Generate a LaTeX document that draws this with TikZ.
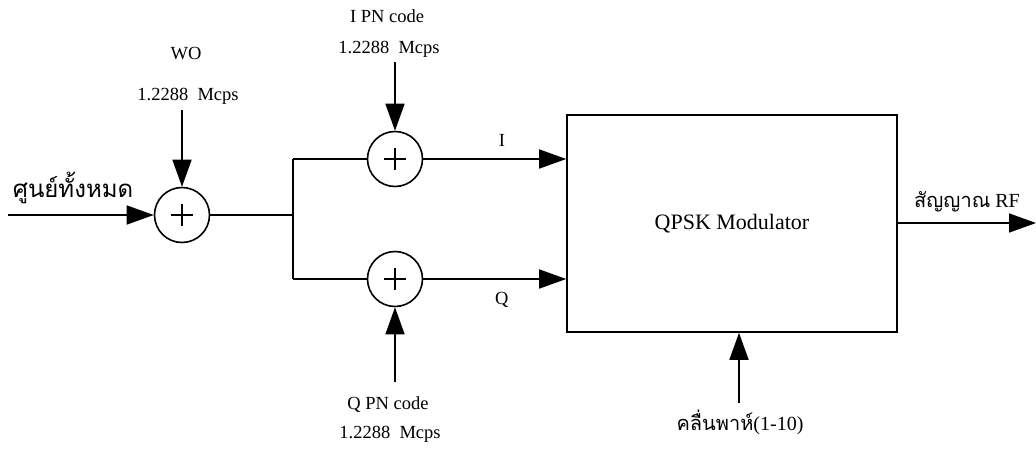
\documentclass[tikz,border=0pt]{standalone}
\usepackage{fontspec}
\setmainfont{Liberation Serif}
\newfontfamily\thaifont[Script=Thai]{Loma}
\usepackage{tikz}
\usetikzlibrary{calc, arrows.meta}

\tikzset{
    sumnode/.style={circle, draw, line width=1.6pt, minimum size=55pt, inner sep=0pt,
        path picture={\draw[line width=1.3pt] ($(path picture bounding box.center)+(-11,0)$) -- ++(22,0)
                                                ($(path picture bounding box.center)+(0,-11)$) -- ++(0,22);}},
    lbl/.style={font=\fontsize{18.5}{20}\selectfont, inner sep=0pt},
    thlbl/.style={font=\fontsize{20}{22}\selectfont, inner sep=0pt},
    sig/.style={line width=1.6pt, -{Triangle[length=27pt, width=19pt]}},
    wire/.style={line width=1.6pt}
}

\begin{document}
\begin{tikzpicture}[x=1pt, y=-1pt]
    \useasboundingbox (0,0) rectangle (1036,453);
    % summing points
    \node[sumnode] (sum0) at (182,215) {};
    \node[sumnode] (sumI) at (395,159) {};
    \node[sumnode] (sumQ) at (395,279) {};
    % modulator
    \node[draw, line width=1.6pt, minimum width=330pt, minimum height=217pt, inner sep=0pt,
          font=\fontsize{22}{24}\selectfont] (mod) at (732,223.5) {QPSK Modulator};
    % input side
    \coordinate (in) at (8,215);
    \coordinate (jn) at (293,215);
    \coordinate (jI) at (293,159);
    \coordinate (jQ) at (293,279);
    \node[thlbl, font=\thaifont\fontsize{24}{26}\selectfont] (inlbl) at (73,188) {ศูนย์ทั้งหมด};
    \draw[sig] (in) -- (sum0);
    \draw[wire] (sum0) -- (jn);
    \draw[wire] (jI) -- (jQ);
    \draw[wire] (jI) -- (sumI);
    \draw[wire] (jQ) -- (sumQ);
    % WO code
    \node[lbl] (wo) at (186,54) {WO};
    \node[lbl] (worate) at (188,96) {1.2288\ \ Mcps};
    \coordinate (woin) at (182,110);
    \draw[sig] (woin) -- (sum0);
    % I and Q PN codes
    \node[lbl] (ipn) at (387,16) {I PN code};
    \node[lbl] (irate) at (389,49) {1.2288\ \ Mcps};
    \coordinate (iin) at (395,62);
    \draw[sig] (iin) -- (sumI);
    \node[lbl] (qpn) at (388,405) {Q PN code};
    \node[lbl] (qrate) at (390,434) {1.2288\ \ Mcps};
    \coordinate (qin) at (395,382);
    \draw[sig] (qin) -- (sumQ);
    % branches into modulator
    \draw[sig] (sumI) -- (sumI -| mod.west) node[lbl, pos=0.55, above=12pt] (ilbl) {I};
    \draw[sig] (sumQ) -- (sumQ -| mod.west) node[lbl, pos=0.55, below=12pt] (qlbl) {Q};
    % carrier
    \coordinate (cin) at (739,403);
    \node[thlbl] (carrier) at (740,422) {{\thaifont คลื่นพาห์}(1-10)};
    \draw[sig] (cin) -- (cin |- mod.south);
    % output
    \coordinate (out) at (1036,223);
    \node[thlbl] (rflbl) at (967,202) {{\thaifont สัญญาณ} RF};
    \draw[sig] (mod.east |- out) -- (out);
\end{tikzpicture}
\end{document}
